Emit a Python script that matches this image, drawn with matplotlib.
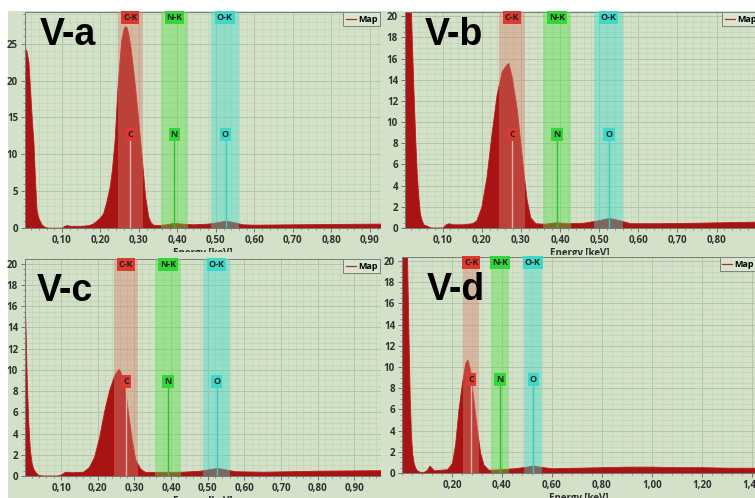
import numpy as np
import matplotlib
matplotlib.use('Agg')
from matplotlib import pyplot as plt
from matplotlib.lines import Line2D
from matplotlib.patches import Rectangle
from matplotlib.ticker import FixedLocator, MultipleLocator, FuncFormatter
import matplotlib.transforms as mtransforms

W, H = 755, 498

### espectros (energia keV, cuentas) ###
ea = [0.004, 0.008, 0.013, 0.018, 0.022, 0.026, 0.030, 0.034, 0.038, 0.043, 0.047, 0.055,
      0.065, 0.100, 0.106, 0.113, 0.120, 0.130, 0.150, 0.170, 0.180, 0.190, 0.200, 0.207,
      0.215, 0.224, 0.230, 0.237, 0.245, 0.254, 0.260, 0.264, 0.268, 0.272, 0.278, 0.285,
      0.292, 0.298, 0.307, 0.316, 0.324, 0.330, 0.337, 0.350, 0.370, 0.390, 0.410, 0.440,
      0.480, 0.505, 0.525, 0.545, 0.570, 0.600, 0.700, 0.800, 0.930]
ca = [24.4, 24.0, 22.5, 18.0, 14.5, 11.5, 6.5, 2.5, 1.5, 0.9, 0.5, 0.15,
      0.05, 0.05, 0.3, 0.4, 0.3, 0.3, 0.3, 0.4, 0.6, 1.0, 1.5, 2.0,
      3.5, 5.6, 8.0, 12.0, 19.7, 25.5, 27.0, 27.4, 27.2, 26.5, 24.5, 21.5,
      18.0, 14.7, 9.7, 4.3, 1.6, 0.8, 0.45, 0.4, 0.5, 0.7, 0.6, 0.5,
      0.6, 0.8, 1.0, 0.8, 0.5, 0.45, 0.5, 0.55, 0.6]

eb = [0.004, 0.012, 0.019, 0.025, 0.030, 0.034, 0.038, 0.042, 0.047, 0.051, 0.070, 0.100,
      0.108, 0.115, 0.125, 0.150, 0.175, 0.186, 0.199, 0.212, 0.225, 0.238, 0.251, 0.260,
      0.268, 0.277, 0.290, 0.298, 0.307, 0.315, 0.324, 0.337, 0.360, 0.390, 0.420, 0.460,
      0.500, 0.525, 0.550, 0.580, 0.650, 0.750, 0.900]
cb = [40, 40, 20.5, 13.6, 8.5, 5.1, 3.0, 1.35, 0.7, 0.35, 0.05, 0.05,
      0.35, 0.45, 0.35, 0.35, 0.45, 0.7, 2.0, 4.8, 8.9, 12.6, 14.8, 15.3,
      15.6, 14.2, 11.1, 8.2, 5.1, 2.6, 1.0, 0.45, 0.4, 0.55, 0.45, 0.5,
      0.75, 0.95, 0.75, 0.45, 0.45, 0.5, 0.6]

ec = [0.0015, 0.004, 0.006, 0.0106, 0.015, 0.0197, 0.024, 0.029, 0.038, 0.050, 0.090, 0.100,
      0.108, 0.115, 0.130, 0.160, 0.176, 0.190, 0.204, 0.218, 0.231, 0.245, 0.252, 0.257,
      0.262, 0.266, 0.275, 0.284, 0.293, 0.302, 0.316, 0.329, 0.360, 0.390, 0.430, 0.480,
      0.505, 0.525, 0.545, 0.575, 0.650, 0.800, 0.975]
cc = [15.5, 12.5, 9.4, 4.9, 2.4, 1.2, 0.7, 0.4, 0.1, 0.05, 0.05, 0.15,
      0.35, 0.4, 0.35, 0.4, 0.85, 1.8, 3.7, 6.2, 8.1, 9.5, 9.9, 10.1,
      9.8, 9.4, 8.1, 5.6, 3.4, 1.6, 0.7, 0.38, 0.38, 0.4, 0.4, 0.5,
      0.65, 0.75, 0.65, 0.45, 0.4, 0.5, 0.55]

ed = [0.0, 0.010, 0.017, 0.022, 0.027, 0.031, 0.036, 0.041, 0.047, 0.055, 0.060, 0.073,
      0.087, 0.100, 0.110, 0.118, 0.127, 0.150, 0.180, 0.200, 0.213, 0.226, 0.240, 0.253,
      0.262, 0.273, 0.286, 0.300, 0.313, 0.326, 0.346, 0.390, 0.450, 0.500, 0.525, 0.550,
      0.600, 0.700, 0.800, 0.900, 1.000, 1.100, 1.200, 1.300, 1.420]
cd = [40, 40, 25, 18, 11.6, 7.0, 3.5, 1.8, 0.9, 0.4, 0.25, 0.1,
      0.1, 0.3, 0.7, 0.5, 0.25, 0.3, 0.35, 0.95, 2.8, 6.0, 8.5, 10.4,
      10.7, 9.7, 6.9, 4.1, 1.9, 0.8, 0.3, 0.35, 0.45, 0.6, 0.72, 0.6,
      0.45, 0.5, 0.55, 0.6, 0.6, 0.55, 0.55, 0.5, 0.5]

titulos = ['V-a', 'V-b', 'V-c', 'V-d']

### bandas K y lineas de los elementos ###
bandas = ['C-K', 'N-K', 'O-K']
banda_ini = [0.245, 0.357, 0.487]
banda_fin = [0.310, 0.427, 0.560]
elementos = ['C', 'N', 'O']
elem_e = [0.277, 0.392, 0.525]

# colores
fondo = '#d3e1c9'
rojo = '#a81414'
col_banda = ['#d8806e', '#55e045', '#38dccb']
col_caja = ['#dc3a30', '#35d43a', '#3fd8c8']
col_linea = ['#eab0aa', '#2fc035', '#38ccc0']

fuente = 'Open Sans'


def px_axes(fig, l, t, r, b):
    return fig.add_axes([l / W, 1 - b / H, (r - l) / W, (b - t) / H])


def fondo_panel(fig, l, t, r, b, z):
    rect = Rectangle((l / W, 1 - b / H), (r - l) / W, (b - t) / H,
                     transform=fig.transFigure, facecolor=fondo, edgecolor='none', zorder=z)
    fig.add_artist(rect)


def panel(ax, e, c, xlim, ylim, xticks, xminor, yticks, yminor, titulo, tpos, leg_x):
    ax.set_facecolor(fondo)
    ax.set_xlim(*xlim)
    ax.set_ylim(*ylim)

    # espectro
    ax.fill_between(e, 0, c, facecolor=rojo, edgecolor='#bb1c1c', linewidth=0.6, zorder=2)

    # bandas
    trans = mtransforms.blended_transform_factory(ax.transData, ax.transAxes)
    for i in range(3):
        ax.axvspan(banda_ini[i], banda_fin[i], color=col_banda[i], alpha=0.42,
                   linewidth=0, zorder=3)
        ax.text((banda_ini[i] + banda_fin[i]) / 2, 0.995, bandas[i], transform=trans,
                ha='center', va='top', fontsize=6.5, fontweight='bold', family=fuente,
                color='#202020', zorder=6,
                bbox=dict(boxstyle='square,pad=0.2', fc=col_caja[i], ec='none'))
        ax.axvline(elem_e[i], ymin=0, ymax=0.405, color=col_linea[i], linewidth=1.0, zorder=4)
        ax.text(elem_e[i], 0.435, elementos[i], transform=trans,
                ha='center', va='center', fontsize=6.5, fontweight='bold', family=fuente,
                color='#202020', zorder=6,
                bbox=dict(boxstyle='square,pad=0.22', fc=col_caja[i], ec='none'))

    # rejilla
    ax.xaxis.set_major_locator(FixedLocator(xticks))
    ax.xaxis.set_minor_locator(MultipleLocator(xminor))
    ax.yaxis.set_major_locator(FixedLocator(yticks))
    ax.yaxis.set_minor_locator(MultipleLocator(yminor))
    ax.xaxis.set_major_formatter(FuncFormatter(lambda v, p: f"{v:.2f}".replace('.', ',')))
    ax.grid(which='major', color='#b3c6aa', linewidth=0.7, zorder=0)
    ax.grid(which='minor', color='#c1d3b7', linewidth=0.5, zorder=0)
    ax.set_axisbelow(True)
    ax.tick_params(which='major', length=3, width=0.6, color='#606060', pad=2,
                   labelsize=7, labelcolor='#303030')
    ax.tick_params(which='minor', length=1.5, width=0.5, color='#707070')
    for lab in ax.get_xticklabels() + ax.get_yticklabels():
        lab.set_fontweight('bold')
        lab.set_family(fuente)
    for s in ['left', 'bottom', 'top']:
        ax.spines[s].set_color('#7a7a7a')
        ax.spines[s].set_linewidth(0.7)
    ax.spines['right'].set_visible(False)

    ax.set_xlabel('Energy [keV]', fontsize=7, fontweight='bold', family=fuente,
                  color='#303030', labelpad=1.5)

    # titulo grande
    ax.text(tpos[0], tpos[1], titulo, transform=ax.transAxes, fontsize=27,
            fontweight='bold', family='Liberation Sans', va='baseline', zorder=7)

    # leyenda
    h = Line2D([], [], color='#b03028', linewidth=0.9)
    leg = ax.legend([h], ['Map'], loc='upper left', bbox_to_anchor=(leg_x, 1.0),
                    fontsize=6.5, handlelength=1.1, handletextpad=0.25, borderpad=0.3,
                    borderaxespad=0.0, fancybox=False, framealpha=1)
    leg.get_frame().set_facecolor('#d8e5cf')
    leg.get_frame().set_edgecolor('#808080')
    leg.get_frame().set_linewidth(0.7)
    for t in leg.get_texts():
        t.set_fontweight('bold')
        t.set_family(fuente)
    leg.set_zorder(8)


fig = plt.figure(figsize=(W / 100, H / 100), dpi=100, facecolor='white')

# fondos de cada captura (se tapan unas a otras)
fondo_panel(fig, 8, 11, 381, 252, 0.5)
fondo_panel(fig, 381, 11, 755, 255, 1.5)
fondo_panel(fig, 8, 252, 381, 498, 2.5)
fondo_panel(fig, 381, 255, 755, 498, 3.5)

ax1 = px_axes(fig, 25, 12, 381, 228)
ax1.set_zorder(1)
panel(ax1, ea, ca, (0.004, 0.929), (0, 29.3), np.arange(0.1, 0.95, 0.1), 0.02,
      [0, 5, 10, 15, 20, 25], 1, titulos[0], (0.042, 0.847), 0.893)

ax2 = px_axes(fig, 405, 12, 755, 228)
ax2.set_zorder(2)
panel(ax2, eb, cb, (0.004, 0.898), (0, 20.4), np.arange(0.1, 0.95, 0.1), 0.02,
      np.arange(0, 21, 2), 0.5, titulos[1], (0.057, 0.847), 0.907)

ax3 = px_axes(fig, 25, 259, 381, 476)
ax3.set_zorder(3)
panel(ax3, ec, cc, (0.0015, 0.973), (0, 20.45), np.arange(0.1, 0.95, 0.1), 0.02,
      np.arange(0, 21, 2), 0.5, titulos[2], (0.034, 0.808), 0.893)

ax4 = px_axes(fig, 402, 257, 755, 473)
ax4.set_zorder(4)
panel(ax4, ed, cd, (0.0, 1.413), (0, 20.38), np.arange(0.2, 1.45, 0.2), 0.04,
      np.arange(0, 21, 2), 0.5, titulos[3], (0.07, 0.80), 0.900)

fig.savefig('out.png', dpi=100, facecolor='white')
